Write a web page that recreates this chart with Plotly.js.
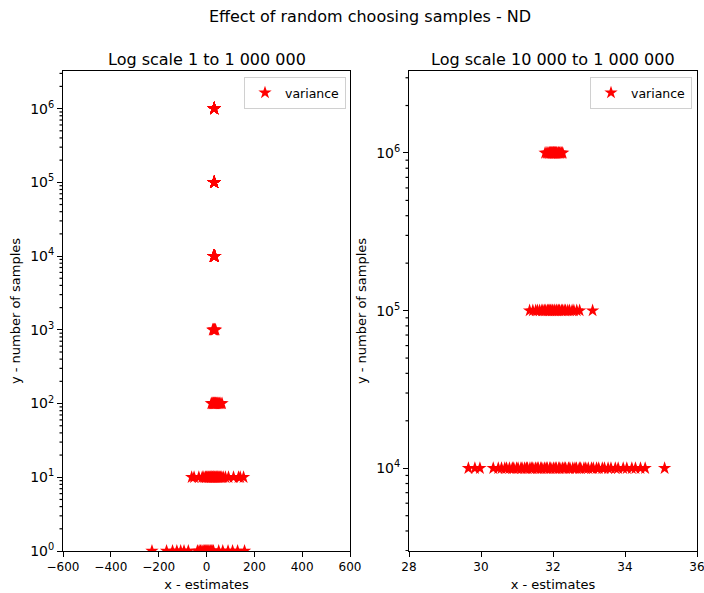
<!DOCTYPE html>
<html>
<head>
<meta charset="utf-8">
<script src="https://cdn.plot.ly/plotly-3.0.1.min.js"></script>
<style>html,body{margin:0;padding:0;background:#fff;}#chart{width:704px;height:593px;}</style>
</head>
<body>
<div id="chart"></div>
<script>
// Sample counts (rows) and the estimates read at each row
const sampleCounts = [1, 10, 100, 1000, 10000, 100000, 1000000];

const est1 = [-228, -167, -142, -124, -108, -94, -76, -38, -31, -25, -19, -14, -9, -5, -1, 3, 7, 11, 16, 20, 24, 29, 51, 68, 90, 109, 130, 159];
const est10 = [-62, -52, -32, -18, -11, -4, 0, 5, 8, 12, 16, 19, 22, 25, 28, 31, 34, 37, 41, 44, 47, 51, 55, 59, 64, 70, 79, 92, 113, 134, 141, 155];
const est100 = [20, 24, 27, 29, 31, 33, 35, 37, 39, 41, 44, 47, 51, 55, 60, 65];
const est1000 = [26, 29, 31, 33, 35, 38];
const est10000 = [29.65, 29.83, 29.97, 30.34, 30.48, 30.57, 30.66, 30.71, 30.79, 30.87, 30.91, 30.99, 31.03, 31.11, 31.14, 31.21, 31.26, 31.29, 31.36, 31.41, 31.44, 31.51, 31.56, 31.59, 31.66, 31.69, 31.76, 31.81, 31.84, 31.91, 31.94, 32.01, 32.06, 32.09, 32.16, 32.19, 32.26, 32.31, 32.35, 32.43, 32.47, 32.55, 32.61, 32.65, 32.73, 32.77, 32.86, 32.91, 32.98, 33.07, 33.12, 33.21, 33.27, 33.37, 33.43, 33.53, 33.61, 33.73, 33.81, 33.95, 34.05, 34.19, 34.29, 34.43, 34.56, 35.10];
const est100000 = [31.35, 31.44, 31.52, 31.57, 31.63, 31.69, 31.72, 31.77, 31.80, 31.85, 31.87, 31.91, 31.93, 31.97, 31.99, 32.03, 32.05, 32.09, 32.11, 32.15, 32.18, 32.23, 32.26, 32.31, 32.35, 32.41, 32.46, 32.53, 32.58, 32.66, 32.74, 33.10];
const est1000000 = [31.78, 31.83, 31.86, 31.89, 31.90, 31.93, 31.94, 31.96, 31.97, 31.99, 32.00, 32.02, 32.02, 32.04, 32.05, 32.07, 32.08, 32.10, 32.11, 32.14, 32.15, 32.18, 32.20, 32.24, 32.27];

const estimatesByRow = [est1, est10, est100, est1000, est10000, est100000, est1000000];

const leftTitle = 'Log scale 1 to 1 000 000';
const rightTitle = 'Log scale 10 000 to 1 000 000';
const mainTitle = 'Effect of random choosing samples - ND';
const seriesName = 'variance';
const xLabel = 'x - estimates';
const yLabel = 'y - number of samples';

const leftXTicks = [-600, -400, -200, 0, 200, 400, 600];
const rightXTicks = [28, 30, 32, 34, 36];
const leftYTicks = [1, 10, 100, 1000, 10000, 100000, 1000000];
const leftYLabels = ['10<sup>0</sup>', '10<sup>1</sup>', '10<sup>2</sup>', '10<sup>3</sup>', '10<sup>4</sup>', '10<sup>5</sup>', '10<sup>6</sup>'];
const rightYTicks = [10000, 100000, 1000000];
const rightYLabels = ['10<sup>4</sup>', '10<sup>5</sup>', '10<sup>6</sup>'];
const minorMultipliers = [2, 3, 4, 5, 6, 7, 8, 9];
const decades = [1, 10, 100, 1000, 10000, 100000, 1000000];

// Build flat series
const xs = [], ys = [];
estimatesByRow.forEach((row, i) => row.forEach(v => { xs.push(v); ys.push(sampleCounts[i]); }));

// minor tick positions for log axes (2..9 x each decade)
const minorVals = [];
decades.forEach(d => minorMultipliers.forEach(m => minorVals.push(m * d)));

const W = 704, H = 593;
const font = 'DejaVu Sans, Verdana, sans-serif';
const mk = {symbol: 'star', size: 10, color: 'red', line: {width: 0}};

const traces = [
  {type: 'scatter', mode: 'markers', x: xs, y: ys, name: seriesName, marker: mk, xaxis: 'x', yaxis: 'y', legend: 'legend', cliponaxis: true},
  {type: 'scatter', mode: 'markers', x: xs, y: ys, name: seriesName, marker: mk, xaxis: 'x2', yaxis: 'y2', legend: 'legend2', cliponaxis: true}
];

const tfont = {family: font, size: 12, color: 'black'};
const yfont = {family: font, size: 14, color: 'black'};
const lfont = {family: font, size: 13, color: 'black'};
const axCommon = {
  showline: true, linecolor: 'black', linewidth: 1, mirror: true,
  ticks: 'outside', ticklen: 5, tickwidth: 1, tickcolor: 'black',
  showgrid: false, zeroline: false, ticklabeloverflow: 'allow',
  tickfont: tfont
};
const LRANGE = [0, 6.51];
const RRANGE = [3.475, 6.52];
const LX = [63 / W, 350 / W];
const RX = [409 / W, 697 / W];

// minor ticks on the log y axes, placed through the y scale
const shapes = [];
function addMinor(yref, x0, range) {
  minorVals.forEach(v => {
    const lv = Math.log10(v);
    if (lv <= range[0] || lv >= range[1]) return;
    shapes.push({type: 'line', xref: 'paper', yref: yref, x0: x0 - 3.5 / W, x1: x0, y0: v, y1: v,
      line: {color: 'black', width: 1.2}, layer: 'above'});
  });
}
addMinor('y', LX[0], LRANGE);
addMinor('y2', RX[0], RRANGE);

const yDom = [42 / H, 522 / H];

const layout = {
  width: W, height: H,
  margin: {l: 0, r: 0, t: 0, b: 0},
  paper_bgcolor: 'white', plot_bgcolor: 'white',
  font: {family: font, color: 'black', size: 13},
  showlegend: true,
  title: {text: mainTitle, x: 370 / W, xanchor: 'center', y: 1 - 16 / H, yanchor: 'middle', font: {family: font, size: 16, color: 'black'}},
  xaxis: Object.assign({}, axCommon, {domain: LX, range: [-600, 600], tickmode: 'array', tickvals: leftXTicks, anchor: 'y', title: {text: xLabel, font: lfont, standoff: 6}}),
  yaxis: Object.assign({}, axCommon, {domain: yDom, type: 'log', range: LRANGE, tickmode: 'array', tickvals: leftYTicks, ticktext: leftYLabels, tickfont: yfont, anchor: 'x', title: {text: yLabel, font: lfont, standoff: 6}}),
  xaxis2: Object.assign({}, axCommon, {domain: RX, range: [28, 36], tickmode: 'array', tickvals: rightXTicks, anchor: 'y2', title: {text: xLabel, font: lfont, standoff: 6}}),
  yaxis2: Object.assign({}, axCommon, {domain: yDom, type: 'log', range: RRANGE, tickmode: 'array', tickvals: rightYTicks, ticktext: rightYLabels, tickfont: yfont, anchor: 'x2', title: {text: yLabel, font: lfont, standoff: 6}}),
  shapes: shapes,
  legend: {x: 346 / W, xanchor: 'right', y: 1 - 77 / H, yanchor: 'top', bgcolor: 'rgba(255,255,255,0.8)', bordercolor: '#d0d0d0', borderwidth: 1, font: {family: font, size: 12.5, color: 'black'}},
  legend2: {x: 692 / W, xanchor: 'right', y: 1 - 77 / H, yanchor: 'top', bgcolor: 'rgba(255,255,255,0.8)', bordercolor: '#d0d0d0', borderwidth: 1, font: {family: font, size: 12.5, color: 'black'}},
  annotations: [
    {text: leftTitle, xref: 'paper', yref: 'paper', x: (LX[0] + LX[1]) / 2, y: 1 - 59 / H, xanchor: 'center', yanchor: 'middle', showarrow: false, font: {family: font, size: 16, color: 'black'}},
    {text: rightTitle, xref: 'paper', yref: 'paper', x: (RX[0] + RX[1]) / 2, y: 1 - 59 / H, xanchor: 'center', yanchor: 'middle', showarrow: false, font: {family: font, size: 16, color: 'black'}}
  ]
};

Plotly.newPlot('chart', traces, layout, {staticPlot: true, displayModeBar: false});
</script>
</body>
</html>
